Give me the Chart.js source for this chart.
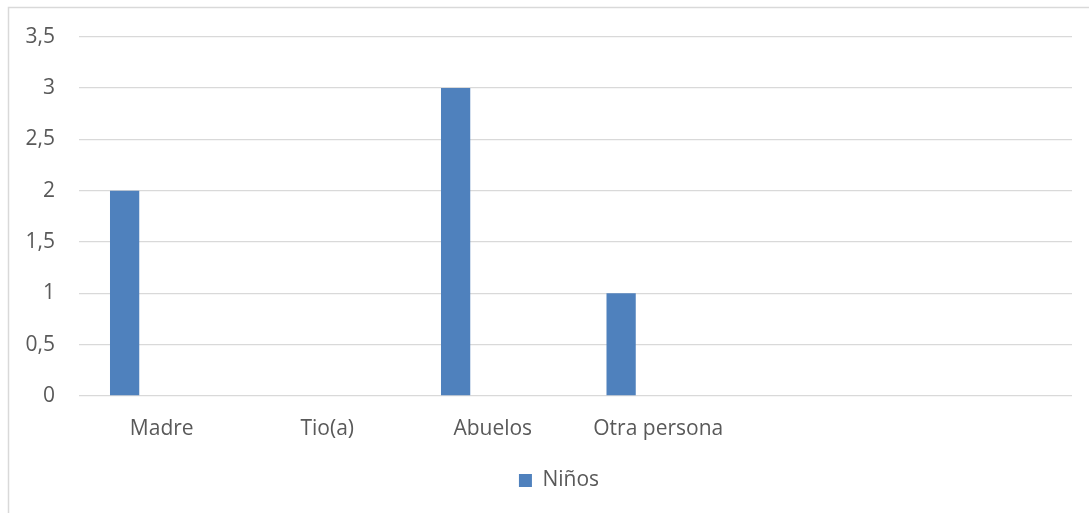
<!DOCTYPE html>
<html>
<head>
<meta charset="utf-8">
<script src="https://cdn.jsdelivr.net/npm/chart.js@4.4.0/dist/chart.umd.min.js"></script>
<style>
  html, body { margin: 0; padding: 0; background: #fff; }
  #wrap { width: 1089px; height: 513px; position: relative; }
</style>
</head>
<body>
<div id="wrap"><canvas id="myChart"></canvas></div>
<script>
// datos
var categorias = ['Madre', 'Tio(a)', 'Abuelos', 'Otra persona', '', ''];
var ninos = [2, 0, 3, 1, null, null];
var vacio1 = [null, null, null, null, null, null];
var vacio2 = [null, null, null, null, null, null];
var ticksY = [0, 0.5, 1, 1.5, 2, 2.5, 3, 3.5];

var gris = '#d9d9d9';
var texto = '#595959';
var azul = '#4f81bd';
var fuente = {family: "'Open Sans', sans-serif", size: 21};

// marco del grafico (solo borde superior e izquierdo se ven)
var marco = {
    id: 'marco',
    beforeDraw: function(chart){
        var c = chart.ctx;
        c.save();
        c.strokeStyle = gris;
        c.lineWidth = 1.5;
        c.beginPath();
        c.moveTo(8.5, chart.height);
        c.lineTo(8.5, 7.5);
        c.lineTo(chart.width, 7.5);
        c.stroke();
        c.restore();
    },
    afterLayout: function(chart){
        // la leyenda de excel queda un poco a la derecha
        chart.legend.left += 23;
        chart.legend.right += 23;
    }
};

var ctx = document.getElementById('myChart').getContext('2d');

var config = {
    type: 'bar',
    data: {
        labels: categorias,
        datasets: [
            {label: 'Niños', data: ninos, backgroundColor: azul, borderWidth: 0},
            {label: '', data: vacio1, backgroundColor: azul},
            {label: '', data: vacio2, backgroundColor: azul}
        ]
    },
    options: {
        responsive: true,
        maintainAspectRatio: false,
        animation: false,
        categoryPercentage: 0.673,
        barPercentage: 0.788,
        layout: {padding: {top: 36, right: 17, left: 0, bottom: 12}},
        plugins: {
            legend: {
                position: 'bottom',
                labels: {
                    color: texto,
                    font: fuente,
                    boxWidth: 13,
                    boxHeight: 13,
                    padding: 10,
                    filter: function(item){ return item.text === 'Niños'; }
                }
            },
            tooltip: {enabled: false}
        },
        scales: {
            x: {
                grid: {display: false, drawTicks: false},
                border: {display: false},
                ticks: {color: texto, font: fuente, padding: 20, maxRotation: 0, autoSkip: false},
                afterFit: function(s){ s.height = 64; }
            },
            y: {
                min: 0,
                max: 3.5,
                grid: {color: gris, lineWidth: 1.3, drawTicks: false},
                border: {display: false},
                ticks: {
                    color: texto,
                    font: fuente,
                    padding: 24,
                    stepSize: 0.5,
                    callback: function(v){ return ticksY.indexOf(v) >= 0 ? String(v).replace('.', ',') : ''; }
                },
                afterFit: function(s){ s.width = 79; }
            }
        }
    },
    plugins: [marco]
};

window.myBar = new Chart(ctx, config);
</script>
</body>
</html>
